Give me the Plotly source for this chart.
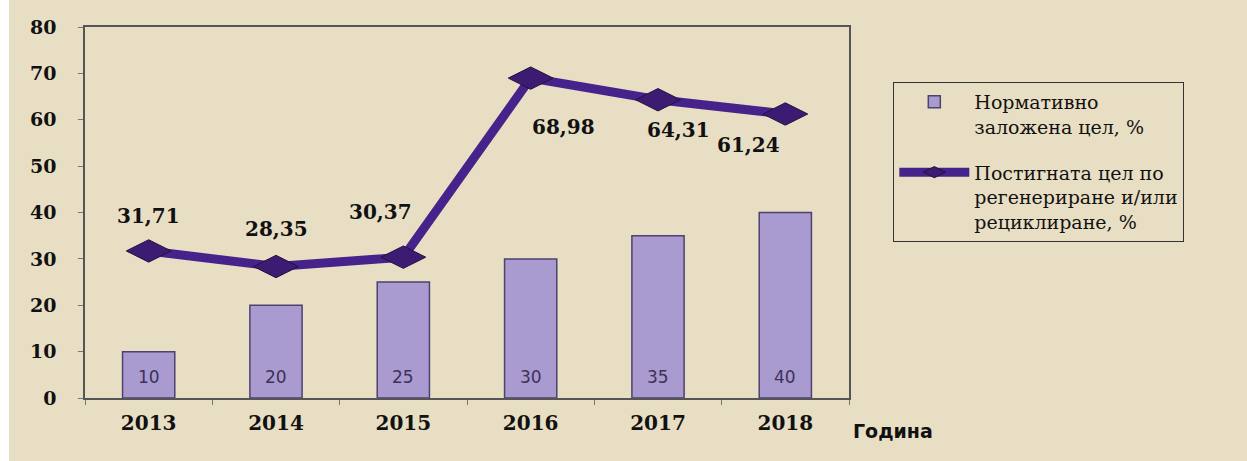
import plotly.graph_objects as go

years = ["2013", "2014", "2015", "2016", "2017", "2018"]
target = [10, 20, 25, 30, 35, 40]
achieved = [31.71, 28.35, 30.37, 68.98, 64.31, 61.24]
achieved_text = ["31,71", "28,35", "30,37", "68,98", "64,31", "61,24"]

bar_name = "Нормативно<br>заложена цел, %"
line_name = "Постигната цел по<br>регенериране и/или<br>рециклиране, %"

# label offsets (px) for the line values
label_dx = [0, 0, -23, 33, 20, -37]
label_dy = [35, 38, 45, -49, -30, -31]

BG = "#e8dec3"
serif = "DejaVu Serif"

fig = go.Figure()

fig.add_trace(go.Bar(
    x=years, y=target, name=bar_name, width=0.41, legendgroup="target",
    marker=dict(color="#a99ad0", line=dict(color="#4d4270", width=1.5)),
))

fig.add_trace(go.Scatter(
    x=years, y=achieved, name=line_name, mode="lines+markers",
    legendgroup="achieved",
    line=dict(color="#46238a", width=9),
    marker=dict(symbol="diamond-wide", size=32, color="#3c1c72",
                line=dict(color="#24103f", width=1)),
))

annotations = []
# category axis: annotations use the category index
for i, v in enumerate(target):
    annotations.append(dict(
        x=i, y=0, text=str(v), showarrow=False, yanchor="bottom", yshift=9,
        font=dict(family="DejaVu Sans", size=17, color="#3b3257"),
    ))
for i, (v, t) in enumerate(zip(achieved, achieved_text)):
    annotations.append(dict(
        x=i, y=v, text="<b>" + t + "</b>", showarrow=False,
        xshift=label_dx[i], yshift=label_dy[i],
        font=dict(family=serif, size=20, color="#111111"),
    ))
annotations.append(dict(
    x=1.0, y=0, xref="paper", yref="paper", xanchor="left", yanchor="top",
    xshift=2, yshift=-20, text="<b>Година</b>", showarrow=False,
    font=dict(family="DejaVu Sans", size=19, color="#111111"),
))

fig.update_layout(
    width=1247, height=461,
    margin=dict(l=85, r=398, t=27, b=63),
    paper_bgcolor=BG, plot_bgcolor=BG,
    showlegend=True,
    legend=dict(
        x=1.058, y=0.852, xanchor="left", yanchor="top",
        bgcolor="rgba(0,0,0,0)", bordercolor="#333333", borderwidth=1,
        font=dict(family=serif, size=19, color="#111111"),
        itemwidth=70, tracegroupgap=18, valign="top",
    ),
    annotations=annotations,
    shapes=[dict(type="rect", xref="paper", yref="paper",
                 x0=-85 / 764, x1=-76 / 764, y0=-0.3, y1=1.2,
                 fillcolor="white", line=dict(width=0), layer="above")],
)

fig.update_xaxes(
    type="category", range=[-0.5, 5.5],
    showline=True, linecolor="#555555", linewidth=1.5, mirror=True,
    ticks="outside", tickson="boundaries", ticklen=5, tickcolor="#777777",
    tickfont=dict(family=serif, size=20, color="#111111"),
    tickprefix="<b>", ticksuffix="</b>", ticklabelstandoff=6,
    showgrid=False,
)
fig.update_yaxes(
    range=[0, 80], dtick=10,
    showline=True, linecolor="#555555", linewidth=1.5, mirror=True,
    ticks="outside", ticklen=5, tickcolor="#777777",
    tickfont=dict(family=serif, size=19, color="#111111"),
    tickprefix="<b>", ticksuffix="</b>", ticklabelstandoff=18,
    showgrid=False, zeroline=False,
)

fig.write_html("out.html", config={"displayModeBar": False},
               post_script="document.body.style.margin='0';")
